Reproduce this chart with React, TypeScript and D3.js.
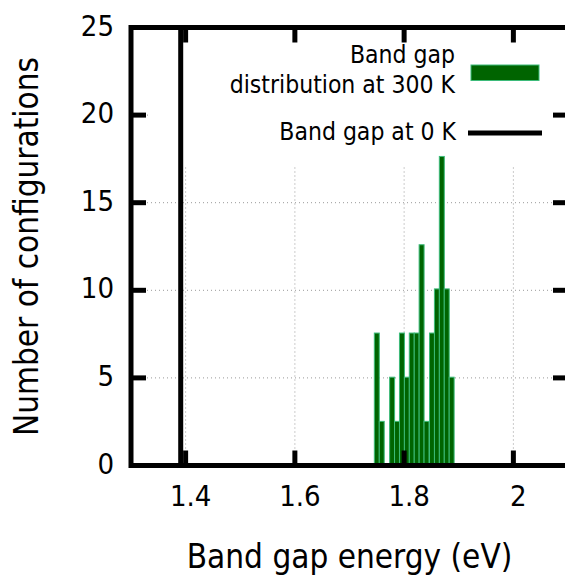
import React, { useEffect, useRef } from "react";
import * as d3 from "d3";

// band gap histogram at 300 K (bin centres in eV, heights as plotted)
const binCenters = [1.750, 1.759, 1.768, 1.778, 1.787, 1.796, 1.805, 1.814,
  1.823, 1.832, 1.841, 1.851, 1.860, 1.869, 1.878, 1.887];
const binCounts = [7.56, 2.52, 0, 5.04, 2.52, 7.56, 5.04, 7.56,
  7.56, 12.6, 2.52, 7.56, 10.08, 17.64, 10.08, 5.04];
const binWidth = 0.0091;

const gapAt0K = 1.391;

const xTicks = [1.4, 1.6, 1.8, 2.0];
const yTicks = [0, 5, 10, 15, 20, 25];
const legendLabels = ["Band gap", "distribution at 300 K", "Band gap at 0 K"];

const FONT = "'DejaVu Sans Condensed', 'DejaVu Sans', sans-serif";

export default function App() {
  const ref = useRef<SVGSVGElement>(null);

  useEffect(() => {
    const svg = d3.select(ref.current);
    svg.selectAll("*").remove();

    const left = 131, right = 568, top = 27.5, bottom = 465.5;
    const x = d3.scaleLinear().domain([1.3, 2.1]).range([left, right]);
    const y = d3.scaleLinear().domain([0, 25]).range([bottom, top]);

    // grid
    const grid = svg.append("g").attr("stroke", "#999").attr("stroke-width", 1)
      .attr("stroke-dasharray", "1,3");
    grid.selectAll(".gx").data(xTicks).join("line").attr("class", "gx")
      .attr("x1", d => x(d)).attr("x2", d => x(d))
      .attr("y1", top).attr("y2", bottom);
    grid.selectAll(".gy").data(yTicks.filter(d => d > 0 && d < 25)).join("line").attr("class", "gy")
      .attr("x1", left).attr("x2", right)
      .attr("y1", d => y(d)).attr("y2", d => y(d));

    // opaque key background
    svg.append("rect").attr("x", 148).attr("y", top).attr("width", 552 - 148)
      .attr("height", 166.5 - top).attr("fill", "white");

    // bars
    svg.append("g").selectAll("rect")
      .data(binCenters.map((c, i) => ({ c, v: binCounts[i] })).filter(d => d.v > 0))
      .join("rect")
      .attr("x", d => x(d.c - binWidth / 2))
      .attr("width", d => x(d.c + binWidth / 2) - x(d.c - binWidth / 2))
      .attr("y", d => y(d.v))
      .attr("height", d => y(0) - y(d.v))
      .attr("fill", "#006400")
      .attr("stroke", "#3dbb7a")
      .attr("stroke-width", 1);

    // band gap at 0 K
    svg.append("line")
      .attr("x1", x(gapAt0K)).attr("x2", x(gapAt0K))
      .attr("y1", y(0)).attr("y2", y(25))
      .attr("stroke", "black").attr("stroke-width", 5);

    // frame and ticks
    const axes = svg.append("g").attr("stroke", "black").attr("stroke-width", 5);
    axes.append("rect").attr("x", left).attr("y", top)
      .attr("width", right - left).attr("height", bottom - top).attr("fill", "none");
    const tl = 15;
    axes.selectAll(".tb").data(xTicks).join("line").attr("class", "tb")
      .attr("x1", d => x(d)).attr("x2", d => x(d)).attr("y1", bottom).attr("y2", bottom - tl);
    axes.selectAll(".tt").data(xTicks).join("line").attr("class", "tt")
      .attr("x1", d => x(d)).attr("x2", d => x(d)).attr("y1", top).attr("y2", top + tl);
    axes.selectAll(".tl").data(yTicks).join("line").attr("class", "tl")
      .attr("x1", left).attr("x2", left + tl).attr("y1", d => y(d)).attr("y2", d => y(d));
    axes.selectAll(".tr").data(yTicks).join("line").attr("class", "tr")
      .attr("x1", right).attr("x2", right - tl).attr("y1", d => y(d)).attr("y2", d => y(d));

    // tick labels
    svg.append("g").selectAll("text").data(xTicks).join("text")
      .attr("x", d => x(d) + 5).attr("y", 506)
      .attr("text-anchor", "middle")
      .style("font-family", FONT).style("font-size", "29px")
      .text(d => d3.format("~g")(d));
    svg.append("g").selectAll("text").data(yTicks).join("text")
      .attr("x", 114).attr("y", d => y(d) + 8)
      .attr("text-anchor", "end")
      .style("font-family", FONT).style("font-size", "29px")
      .text(d => d);

    // axis titles
    svg.append("text")
      .attr("x", (left + right) / 2).attr("y", 568)
      .attr("text-anchor", "middle")
      .style("font-family", FONT).style("font-size", "33px")
      .text("Band gap energy (eV)");
    svg.append("text")
      .attr("transform", `translate(38, ${(top + bottom) / 2}) rotate(-90)`)
      .attr("text-anchor", "middle")
      .style("font-family", FONT).style("font-size", "33px")
      .text("Number of configurations");

    // legend
    const lg = svg.append("g").style("font-family", FONT).style("font-size", "24.5px")
      .attr("text-anchor", "end");
    lg.append("text").attr("x", 455).attr("y", 63).text(legendLabels[0]);
    lg.append("text").attr("x", 455).attr("y", 93).text(legendLabels[1]);
    lg.append("text").attr("x", 456).attr("y", 140).text(legendLabels[2]);
    lg.append("rect").attr("x", 471).attr("y", 65).attr("width", 68).attr("height", 15.5)
      .attr("fill", "#006400").attr("stroke", "#3dbb7a").attr("stroke-width", 1);
    lg.append("line").attr("x1", 468).attr("x2", 542).attr("y1", 133).attr("y2", 133)
      .attr("stroke", "black").attr("stroke-width", 5);
  }, []);

  return (
    <svg ref={ref} width={565} height={577}
      style={{ position: "absolute", left: 0, top: 0, background: "white" }} />
  );
}
